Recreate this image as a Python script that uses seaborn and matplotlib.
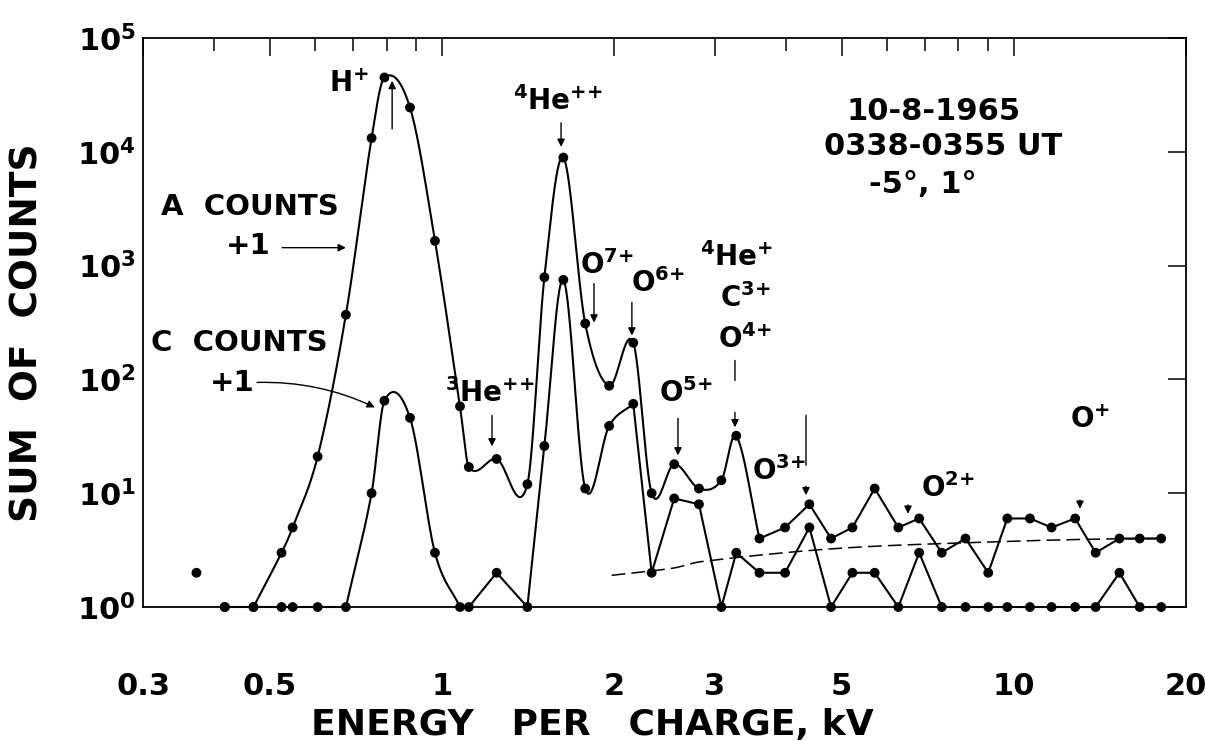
import numpy as np
import pandas as pd
import matplotlib
matplotlib.use("Agg")
import matplotlib.pyplot as plt
from matplotlib.ticker import LogLocator, NullFormatter, NullLocator
import seaborn as sns

# Energy-per-charge steps of the analyser (kV)
energy = [0.372, 0.417, 0.468, 0.524, 0.548, 0.606, 0.679, 0.753, 0.793, 0.879,
          0.972, 1.075, 1.114, 1.246, 1.41, 1.51, 1.63, 1.78, 1.96, 2.16,
          2.326, 2.547, 2.814, 3.08, 3.27, 3.59, 3.98, 4.39, 4.79, 5.22,
          5.71, 6.28, 6.83, 7.48, 8.23, 9.02, 9.74, 10.67, 11.64, 12.8,
          13.9, 15.3, 16.6, 18.1]

# Summed counts + 1, detector A
a_counts = [2, 1, 1, 3, 5, 21, 370, 13200, 45000, 24500,
            1650, 58, 17, 20, 12, 790, 8900, 310, 88, 210,
            10, 18, 11, 13, 32, 4, 5, 8, 4, 5,
            11, 5, 6, 3, 4, 2, 6, 6, 5, 6,
            3, 4, 4, 4]

# Summed counts + 1, detector C (no reading at the first step)
c_counts = [np.nan, 1, 1, 1, 1, 1, 1, 10, 65, 46,
            3, 1, 1, 2, 1, 26, 750, 11, 39, 61,
            2, 9, 8, 1, 3, 2, 2, 5, 1, 2,
            2, 1, 3, 1, 1, 1, 1, 1, 1, 1,
            1, 2, 1, 1]

# Background level (dashed)
bg_energy = [1.98, 2.54, 2.83, 4.9, 9.2, 13.9, 18.0]
bg_counts = [1.9, 2.2, 2.5, 3.27, 3.74, 3.95, 4.0]

x_ticks = [0.3, 0.5, 1, 2, 3, 5, 10, 20]
x_tick_labels = ["0.3", "0.5", "1", "2", "3", "5", "10", "20"]
y_ticks = [1, 10, 100, 1e3, 1e4, 1e5]
y_tick_labels = [r"$\mathbf{10^{0}}$", r"$\mathbf{10^{1}}$", r"$\mathbf{10^{2}}$",
                 r"$\mathbf{10^{3}}$", r"$\mathbf{10^{4}}$", r"$\mathbf{10^{5}}$"]

# Which stretches of each series are drawn as smooth curves / straight segments
a_smooth = [(2, 25)]
a_straight = [(25, len(energy) - 1)]
c_smooth = [(6, 11), (14, 19)]
c_straight = [(1, 6), (11, 14), (19, len(energy) - 1)]


def hermite_loglog(x, y, n=60):
    """Cardinal (Catmull-Rom like) cubic through the points in log-log space."""
    lx = np.log10(np.asarray(x, float))
    ly = np.log10(np.asarray(y, float))
    m = np.empty_like(lx)
    m[1:-1] = (ly[2:] - ly[:-2]) / (lx[2:] - lx[:-2])
    m[0] = (ly[1] - ly[0]) / (lx[1] - lx[0])
    m[-1] = (ly[-1] - ly[-2]) / (lx[-1] - lx[-2])
    X, Y = [], []
    for i in range(len(lx) - 1):
        h = lx[i + 1] - lx[i]
        t = np.linspace(0, 1, n)
        h00 = 2 * t**3 - 3 * t**2 + 1
        h10 = t**3 - 2 * t**2 + t
        h01 = -2 * t**3 + 3 * t**2
        h11 = t**3 - t**2
        X.append(lx[i] + h * t)
        Y.append(h00 * ly[i] + h10 * h * m[i] + h01 * ly[i + 1] + h11 * h * m[i + 1])
    X = np.concatenate(X)
    Y = np.maximum(np.concatenate(Y), 0.0)
    return 10**X, 10**Y


sns.set_theme(style="white")
plt.rcParams["font.family"] = ["DejaVu Sans"]
plt.rcParams["mathtext.fontset"] = "dejavusans"
plt.rcParams["axes.linewidth"] = 1.3
plt.rcParams["text.color"] = "black"
plt.rcParams["axes.edgecolor"] = "black"
plt.rcParams["xtick.color"] = "black"
plt.rcParams["ytick.color"] = "black"
plt.rcParams["xtick.labelcolor"] = "black"
plt.rcParams["ytick.labelcolor"] = "black"

fig = plt.figure(figsize=(12.06, 7.41), dpi=100)
ax = fig.add_axes([0.1186, 0.1808, 0.8648, 0.7679])
ax.set_xscale("log")
ax.set_yscale("log")

lw = 1.5
E = np.asarray(energy)
A = np.asarray(a_counts, float)
C = np.asarray(c_counts, float)

for vals, smooth_parts, straight_parts in ((A, a_smooth, a_straight),
                                           (C, c_smooth, c_straight)):
    for i0, i1 in smooth_parts:
        xs, ys = hermite_loglog(E[i0:i1 + 1], vals[i0:i1 + 1])
        ax.plot(xs, ys, color="black", lw=lw, solid_capstyle="round", clip_on=False)
    for i0, i1 in straight_parts:
        sns.lineplot(x=E[i0:i1 + 1], y=vals[i0:i1 + 1], ax=ax, sort=False,
                     estimator=None, color="black", lw=lw, clip_on=False)

# background estimate
bx, by = hermite_loglog(bg_energy, bg_counts)
ax.plot(bx, by, color="black", lw=1.1, dashes=(9, 4))

# data points
df = pd.DataFrame({
    "energy": np.concatenate([E, E]),
    "counts": np.concatenate([A, C]),
    "detector": ["A"] * len(E) + ["C"] * len(E),
}).dropna()
sns.scatterplot(data=df, x="energy", y="counts", hue="detector",
                palette={"A": "black", "C": "black"}, s=50, linewidth=0,
                legend=False, ax=ax, clip_on=False, zorder=5)

ax.set_xlim(0.3, 20)
ax.set_ylim(1, 1e5)
ax.set_xticks(x_ticks)
ax.set_xticklabels(x_tick_labels)
ax.xaxis.set_minor_locator(LogLocator(base=10, subs=np.arange(2, 10)))
ax.xaxis.set_minor_formatter(NullFormatter())
ax.set_yticks(y_ticks)
ax.set_yticklabels(y_tick_labels)
ax.yaxis.set_minor_locator(NullLocator())
ax.set_xlabel("")
ax.set_ylabel("")
ax.tick_params(which="both", direction="in", top=True, right=True,
               color="black", width=1.1)
ax.tick_params(which="major", length=13)
ax.tick_params(which="minor", length=9)
ax.tick_params(axis="x", which="major", pad=47, labelsize=22)
ax.tick_params(axis="y", which="major", pad=5, labelsize=22)
for lab in ax.get_xticklabels():
    lab.set_fontweight("bold")
for sp in ax.spines.values():
    sp.set_color("black")

fig.text(0.4909, 0.0075, "ENERGY   PER   CHARGE, kV", fontsize=26,
         fontweight="bold", ha="center", va="baseline")
fig.text(0.0232, 0.5513, "SUM  OF  COUNTS", fontsize=27, fontweight="bold",
         rotation=90, ha="center", va="center")

# labels of the ion species
tkw = dict(transform=ax.transAxes, ha="center", va="center", fontsize=20)
ax.text(0.1975, 0.919, r"$\mathbf{H^{{+}}}$", **tkw)
ax.text(0.398, 0.889, r"$\mathbf{{}^{4}He^{{+}{+}}}$", **tkw)
ax.text(0.3327, 0.376, r"$\mathbf{{}^{3}He^{{+}{+}}}$", **tkw)
ax.text(0.4450, 0.601, r"$\mathbf{O^{7{+}}}$", **tkw)
ax.text(0.4935, 0.569, r"$\mathbf{O^{6{+}}}$", **tkw)
ax.text(0.5695, 0.615, r"$\mathbf{{}^{4}He^{{+}}}$", **tkw)
ax.text(0.5772, 0.543, r"$\mathbf{C^{3{+}}}$", **tkw)
ax.text(0.5772, 0.471, r"$\mathbf{O^{4{+}}}$", **tkw)
ax.text(0.5206, 0.376, r"$\mathbf{O^{5{+}}}$", **tkw)
ax.text(0.6098, 0.239, r"$\mathbf{O^{3{+}}}$", **tkw)
ax.text(0.7718, 0.209, r"$\mathbf{O^{2{+}}}$", **tkw)
ax.text(0.908, 0.3286, r"$\mathbf{O^{{+}}}$", **tkw)

lkw = dict(transform=ax.transAxes, ha="center", va="center", fontsize=21,
           fontweight="bold")
ax.text(0.1026, 0.703, "A  COUNTS", **lkw)
ax.text(0.1007, 0.6345, "+1", **lkw)
ax.text(0.092, 0.464, "C  COUNTS", **lkw)
ax.text(0.0853, 0.3937, "+1", **lkw)

dkw = dict(transform=ax.transAxes, ha="center", va="center", fontsize=22,
           fontweight="bold")
ax.text(0.7584, 0.8717, "10-8-1965", **dkw)
ax.text(0.767, 0.810, "0338-0355 UT", **dkw)
ax.text(0.748, 0.743, "-5°, 1°", **dkw)

# pointer arrows (tail -> tip, in data coordinates)
head = dict(arrowstyle="-|>", color="black", lw=1.0, mutation_scale=11,
            shrinkA=0, shrinkB=0)
plain = dict(arrowstyle="-", color="black", lw=1.0, shrinkA=0, shrinkB=0)
arrows = [
    ((0.818, 15900), (0.818, 42000), head),
    ((1.615, 17950), (1.615, 11060), head),
    ((1.223, 48.3), (1.223, 25.8), head),
    ((1.844, 695), (1.844, 316), head),
    ((2.148, 474), (2.148, 243), head),
    ((2.586, 45.5), (2.586, 21.5), head),
    ((3.253, 146.8), (3.253, 98), plain),
    ((3.253, 51.3), (3.253, 37.9), head),
    ((4.33, 48.3), (4.33, 17.6), plain),
    ((4.33, 11.5), (4.33, 9.6), head),
    ((6.53, 7.9), (6.53, 6.6), head),
    ((13.05, 8.7), (13.05, 7.3), head),
    ((0.525, 1438), (0.679, 1438), head),
]
for tail, tip, style in arrows:
    ax.annotate("", xy=tip, xytext=tail, arrowprops=style)
ax.annotate("", xy=(0.763, 56.8), xytext=(0.4747, 94.1),
            arrowprops=dict(head, connectionstyle="arc3,rad=-0.12"))

fig.savefig("out.png", dpi=100, facecolor="white")
